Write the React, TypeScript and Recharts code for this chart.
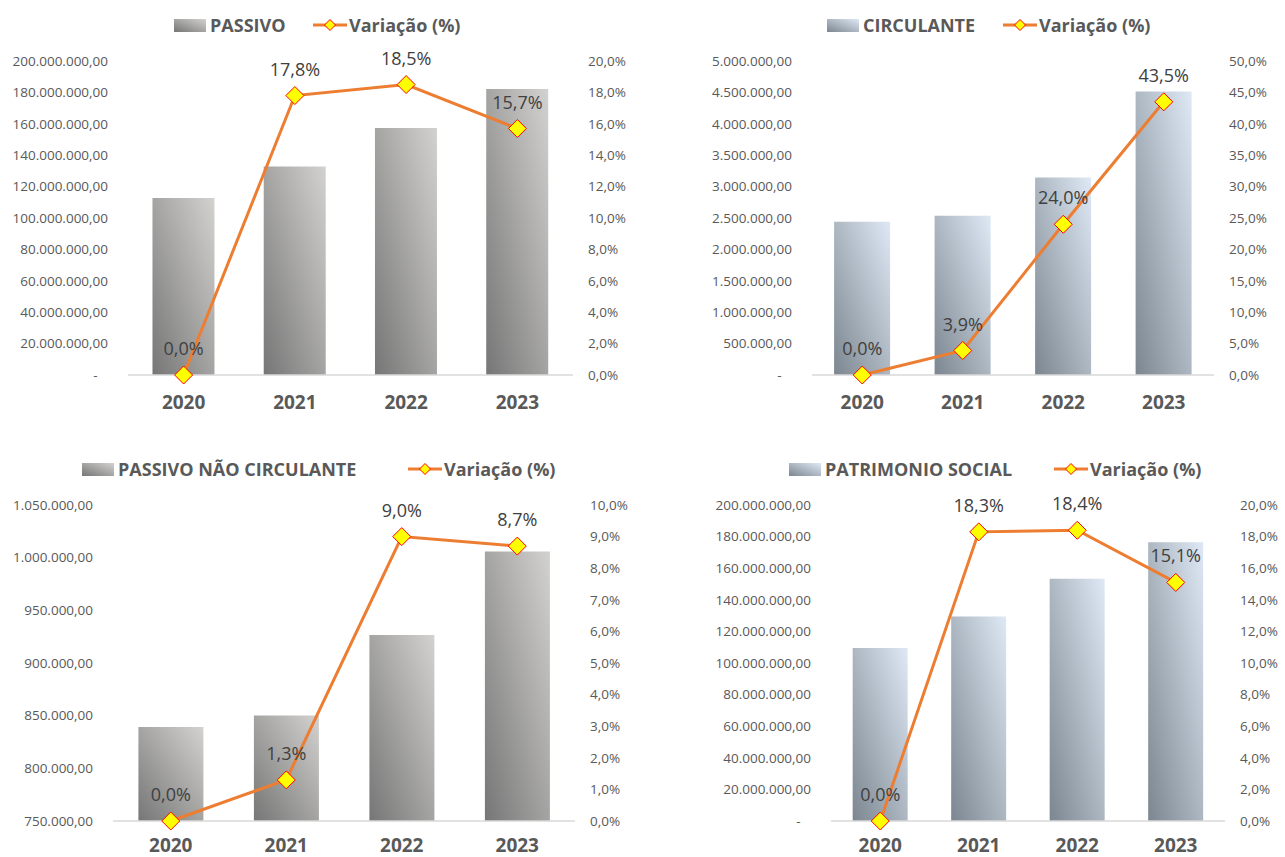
import { ComposedChart, Bar, Line, XAxis, YAxis, LabelList } from "recharts";

const FONT = '"Open Sans", "Segoe UI", sans-serif';
const TICK_COLOR = "#595959";
const LINE_COLOR = "#ED7D31";

// dados
const anos = ["2020", "2021", "2022", "2023"];

const passivo = [112700000, 132800000, 157400000, 182100000];
const passivoVar = [0, 17.8, 18.5, 15.7];

const circulante = [2441000, 2536000, 3145000, 4513000];
const circulanteVar = [0, 3.9, 24.0, 43.5];

const naoCirculante = [839200, 850100, 926600, 1005800];
const naoCirculanteVar = [0, 1.3, 9.0, 8.7];

const patrimonio = [109500000, 129500000, 153300000, 176400000];
const patrimonioVar = [0, 18.3, 18.4, 15.1];

const ticks200M = [0, 20e6, 40e6, 60e6, 80e6, 100e6, 120e6, 140e6, 160e6, 180e6, 200e6];
const ticks5M = [0, 0.5e6, 1e6, 1.5e6, 2e6, 2.5e6, 3e6, 3.5e6, 4e6, 4.5e6, 5e6];
const ticksNaoCirc = [750000, 800000, 850000, 900000, 950000, 1000000, 1050000];
const pct20 = [0, 2, 4, 6, 8, 10, 12, 14, 16, 18, 20];
const pct50 = [0, 5, 10, 15, 20, 25, 30, 35, 40, 45, 50];
const pct10 = [0, 1, 2, 3, 4, 5, 6, 7, 8, 9, 10];

const GRAY = ["#767676", "#d3d2d0"];
const BLUE = ["#7c8690", "#dee9f5"];

function fmtValor(v: number) {
  if (v === 0) return "-\u00A0\u00A0\u00A0";
  const [int, dec] = v.toFixed(2).split(".");
  return int.replace(/\B(?=(\d{3})+(?!\d))/g, ".") + "," + dec;
}

function fmtPct(v: number) {
  return Number(v).toFixed(1).replace(".", ",") + "%";
}

function Diamond(props: any) {
  const { cx, cy, index } = props;
  if (cx == null || cy == null) return <g key={index} />;
  const r = 9;
  return (
    <path
      key={`d-${index}`}
      d={`M${cx},${cy - r} L${cx + r},${cy} L${cx},${cy + r} L${cx - r},${cy} Z`}
      fill="#FFFF00"
      stroke="#FF0000"
      strokeWidth={1}
    />
  );
}

interface Painel {
  titulo: string;
  valores: number[];
  variacoes: number[];
  ticksValor: number[];
  ticksPct: number[];
  cores: string[];
  gradId: string;
  box: { left: number; top: number; width: number; height: number };
  leftW: number;
  rightW: number;
  top: number;
  xH: number;
  xGap: number;
  bottom: number;
  legenda: { swatch: number; linha: number; y: number };
}

const paineis: Painel[] = [
  {
    titulo: "PASSIVO",
    valores: passivo,
    variacoes: passivoVar,
    ticksValor: ticks200M,
    ticksPct: pct20,
    cores: GRAY,
    gradId: "g1",
    box: { left: 0, top: 0, width: 640, height: 430 },
    leftW: 128,
    rightW: 67,
    top: 61,
    xH: 40,
    xGap: 21,
    bottom: 15,
    legenda: { swatch: 174, linha: 313, y: 25 },
  },
  {
    titulo: "CIRCULANTE",
    valores: circulante,
    variacoes: circulanteVar,
    ticksValor: ticks5M,
    ticksPct: pct50,
    cores: BLUE,
    gradId: "g2",
    box: { left: 640, top: 0, width: 645, height: 430 },
    leftW: 172,
    rightW: 71,
    top: 61,
    xH: 40,
    xGap: 21,
    bottom: 15,
    legenda: { swatch: 187, linha: 363, y: 25 },
  },
  {
    titulo: "PASSIVO NÃO CIRCULANTE",
    valores: naoCirculante,
    variacoes: naoCirculanteVar,
    ticksValor: ticksNaoCirc,
    ticksPct: pct10,
    cores: GRAY,
    gradId: "g3",
    box: { left: 0, top: 440, width: 640, height: 417 },
    leftW: 113,
    rightW: 65,
    top: 65,
    xH: 36,
    xGap: 18,
    bottom: 0,
    legenda: { swatch: 82, linha: 408, y: 29 },
  },
  {
    titulo: "PATRIMONIO SOCIAL",
    valores: patrimonio,
    variacoes: patrimonioVar,
    ticksValor: ticks200M,
    ticksPct: pct20,
    cores: BLUE,
    gradId: "g4",
    box: { left: 640, top: 440, width: 645, height: 417 },
    leftW: 191,
    rightW: 60,
    top: 65,
    xH: 36,
    xGap: 18,
    bottom: 0,
    legenda: { swatch: 149, linha: 414, y: 29 },
  },
];

const legendText: React.CSSProperties = {
  position: "absolute",
  height: 24,
  lineHeight: "24px",
  fontSize: 18,
  fontWeight: 700,
  color: TICK_COLOR,
  whiteSpace: "nowrap",
};

function Legenda({ p }: { p: Painel }) {
  const { swatch, linha, y } = p.legenda;
  return (
    <>
      <div
        style={{
          position: "absolute",
          left: swatch,
          top: y - 6.5,
          width: 32,
          height: 13,
          background: `linear-gradient(to top right, ${p.cores[0]}, ${p.cores[1]})`,
        }}
      />
      <div style={{ ...legendText, left: swatch + 36, top: y - 12 }}>{p.titulo}</div>
      <svg style={{ position: "absolute", left: linha, top: y - 7 }} width={34} height={14}>
        <line x1={0} y1={7} x2={34} y2={7} stroke={LINE_COLOR} strokeWidth={3} />
        <path d="M17,1.5 L22.5,7 L17,12.5 L11.5,7 Z" fill="#FFFF00" stroke="#FF0000" strokeWidth={1} />
      </svg>
      <div style={{ ...legendText, left: linha + 36, top: y - 12 }}>Variação (%)</div>
    </>
  );
}

function Grafico({ p }: { p: Painel }) {
  const dados = anos.map((ano, i) => ({ ano, valor: p.valores[i], variacao: p.variacoes[i] }));
  const tick = { fontSize: 13.5, fill: TICK_COLOR, fontFamily: FONT };
  return (
    <div style={{ position: "absolute", ...p.box }}>
      <Legenda p={p} />
      <ComposedChart
        width={p.box.width}
        height={p.box.height}
        data={dados}
        barCategoryGap="22%"
        margin={{ top: p.top, right: 0, left: 0, bottom: p.bottom }}
        style={{ fontFamily: FONT }}
      >
        <defs>
          <linearGradient id={p.gradId} x1="0" y1="1" x2="1" y2="0">
            <stop offset="0%" stopColor={p.cores[0]} />
            <stop offset="100%" stopColor={p.cores[1]} />
          </linearGradient>
        </defs>
        <XAxis
          dataKey="ano"
          height={p.xH}
          tickLine={false}
          tickSize={0}
          tickMargin={p.xGap}
          axisLine={{ stroke: "#d9d9d9", strokeWidth: 1.5 }}
          tick={{ fontSize: 19, fontWeight: 700, fill: TICK_COLOR, fontFamily: FONT }}
        />
        <YAxis
          yAxisId="left"
          width={p.leftW}
          domain={[p.ticksValor[0], p.ticksValor[p.ticksValor.length - 1]]}
          ticks={p.ticksValor}
          interval={0}
          tickFormatter={fmtValor}
          axisLine={false}
          tickLine={false}
          tickSize={0}
          tickMargin={20}
          tick={tick}
          allowDataOverflow
        />
        <YAxis
          yAxisId="right"
          orientation="right"
          width={p.rightW}
          domain={[p.ticksPct[0], p.ticksPct[p.ticksPct.length - 1]]}
          ticks={p.ticksPct}
          interval={0}
          tickFormatter={fmtPct}
          axisLine={false}
          tickLine={false}
          tickSize={0}
          tickMargin={15}
          tick={tick}
        />
        <Bar yAxisId="left" dataKey="valor" fill={`url(#${p.gradId})`} isAnimationActive={false} />
        <Line
          yAxisId="right"
          type="linear"
          dataKey="variacao"
          stroke={LINE_COLOR}
          strokeWidth={3}
          dot={Diamond}
          activeDot={false}
          isAnimationActive={false}
        >
          <LabelList
            dataKey="variacao"
            position="top"
            offset={20}
            formatter={fmtPct}
            fill="#404040"
            fontSize={18}
            fontFamily={FONT}
          />
        </Line>
      </ComposedChart>
    </div>
  );
}

export default function App() {
  return (
    <div
      style={{
        position: "absolute",
        left: 0,
        top: 0,
        width: 1285,
        height: 857,
        background: "#ffffff",
        fontFamily: FONT,
        overflow: "hidden",
      }}
    >
      {paineis.map((p) => (
        <Grafico key={p.gradId} p={p} />
      ))}
    </div>
  );
}
